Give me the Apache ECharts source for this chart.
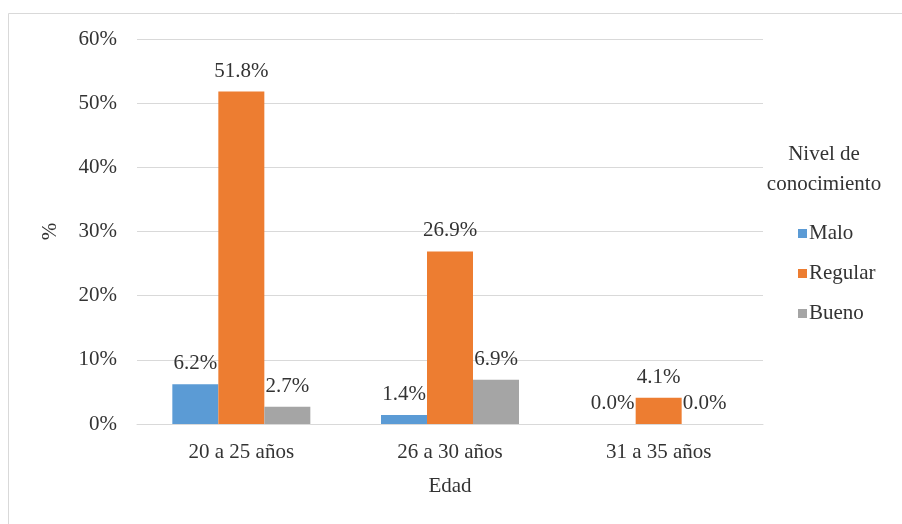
<!DOCTYPE html>
<html>
<head>
<meta charset="utf-8">
<script src="https://cdn.jsdelivr.net/npm/echarts@6/dist/echarts.min.js"></script>
<style>
html,body{margin:0;padding:0;background:#fff;}
#chart{width:902px;height:524px;}
</style>
</head>
<body>
<div id="chart"></div>
<script>
var categories = ['20 a 25 años', '26 a 30 años', '31 a 35 años'];
var seriesNames = ['Malo', 'Regular', 'Bueno'];
var malo = [6.2, 1.4, 0.0];
var regular = [51.8, 26.9, 4.1];
var bueno = [2.7, 6.9, 0.0];
var yTicks = [0, 10, 20, 30, 40, 50, 60];
var colors = ['#5b9bd5', '#ed7d31', '#a5a5a5'];

var FONT = '"Liberation Serif", "Times New Roman", serif';
var TXT = '#333333';

var chart = echarts.init(document.getElementById('chart'), null, {renderer: 'canvas'});

function mkSeries(name, data, color) {
  return {
    name: name,
    type: 'bar',
    data: data,
    barWidth: 46,
    barGap: '0%',
    itemStyle: {color: color},
    label: {
      show: true,
      position: 'top',
      distance: 10,
      formatter: function (p) { return p.value.toFixed(1) + '%'; },
      fontFamily: FONT,
      fontSize: 21,
      color: TXT
    }
  };
}

chart.setOption({
  animation: false,
  backgroundColor: '#fff',
  graphic: [{
    type: 'rect',
    shape: {x: 8.5, y: 13.5, width: 920, height: 540},
    style: {fill: 'none', stroke: '#d9d9d9', lineWidth: 1},
    silent: true
  }],
  title: {
    text: 'Nivel de\nconocimiento',
    left: 819,
    top: 134,
    textAlign: 'center',
    textStyle: {fontFamily: FONT, fontSize: 21, fontWeight: 'normal', color: TXT, lineHeight: 30}
  },
  legend: {
    orient: 'vertical',
    left: 793,
    top: 218,
    itemWidth: 9,
    itemHeight: 9,
    itemGap: 19,
    icon: 'rect',
    data: seriesNames,
    textStyle: {fontFamily: FONT, fontSize: 21, color: TXT, padding: [0, 0, 0, -3]}
  },
  grid: {left: 137, right: 139, top: 39, bottom: 100, containLabel: false},
  xAxis: {
    type: 'category',
    data: categories,
    name: 'Edad',
    nameLocation: 'middle',
    nameGap: 52,
    nameTextStyle: {fontFamily: FONT, fontSize: 21, color: TXT},
    axisLine: {show: true, lineStyle: {color: '#d9d9d9'}},
    axisTick: {show: false},
    axisLabel: {fontFamily: FONT, fontSize: 21, color: TXT, margin: 18}
  },
  yAxis: {
    type: 'value',
    min: yTicks[0],
    max: yTicks[yTicks.length - 1],
    interval: 10,
    name: '%',
    nameLocation: 'middle',
    nameGap: 76,
    nameRotate: 90,
    nameTextStyle: {fontFamily: FONT, fontSize: 21, color: TXT},
    axisLine: {show: false},
    axisTick: {show: false},
    axisLabel: {fontFamily: FONT, fontSize: 21, color: TXT, margin: 20, formatter: '{value}%'},
    splitLine: {lineStyle: {color: '#d9d9d9', width: 1}}
  },
  series: [
    mkSeries(seriesNames[0], malo, colors[0]),
    mkSeries(seriesNames[1], regular, colors[1]),
    mkSeries(seriesNames[2], bueno, colors[2])
  ]
});
</script>
</body>
</html>
